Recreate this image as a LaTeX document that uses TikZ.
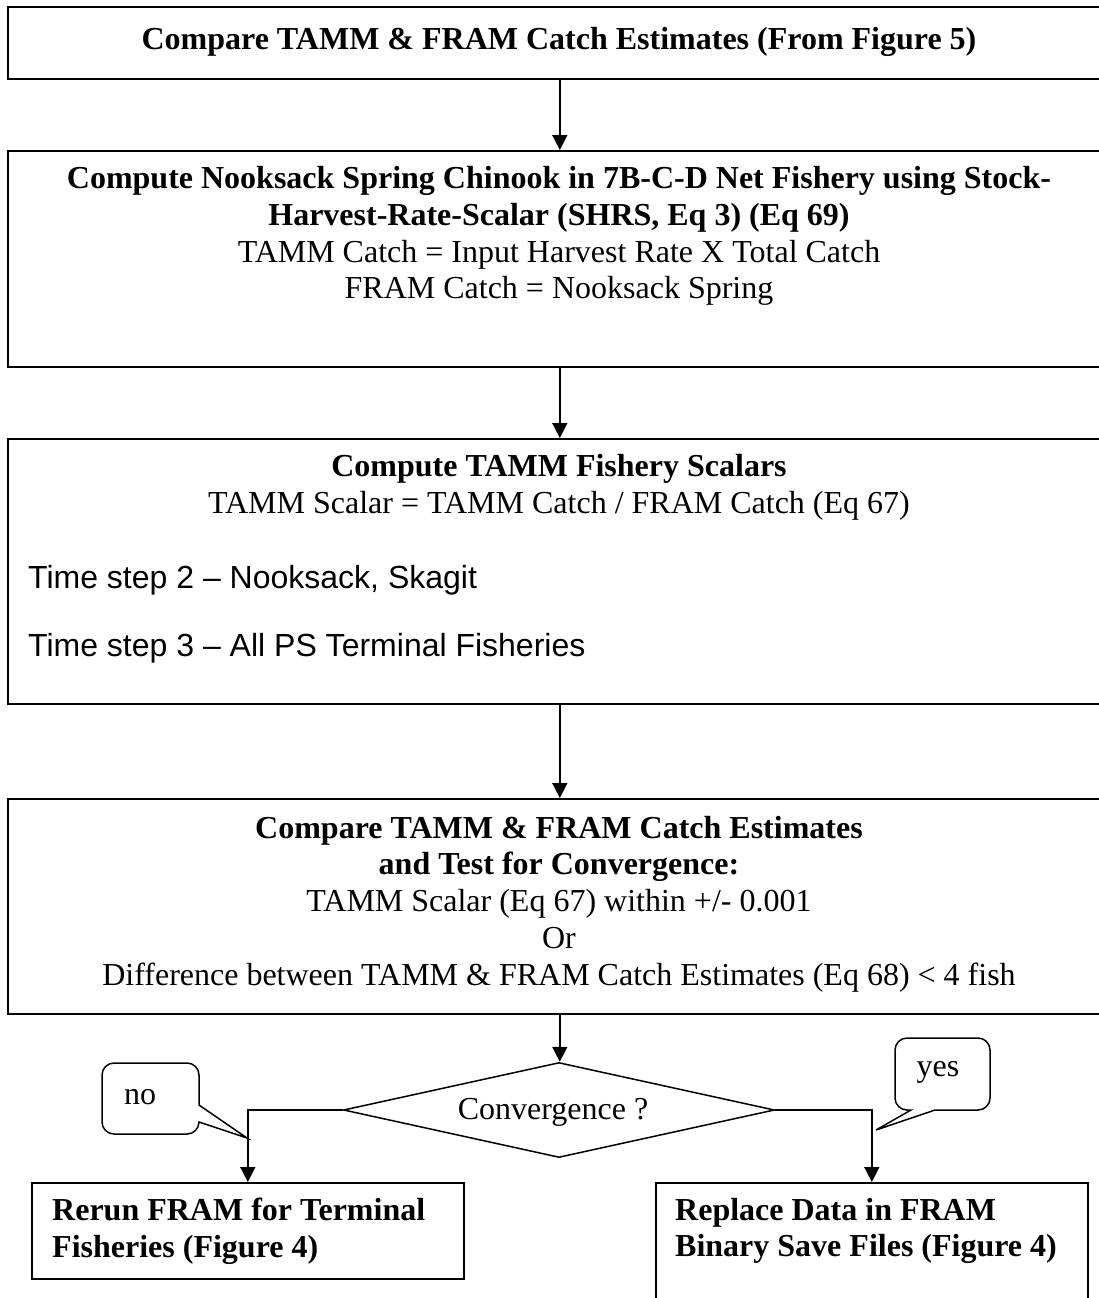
\documentclass[tikz,border=0pt]{standalone}
\usepackage{fontspec}
\setmainfont{Liberation Serif}
\setsansfont{Liberation Sans}
\usetikzlibrary{arrows.meta,shapes.geometric}
\begin{document}
\begin{tikzpicture}[x=1pt,y=-1pt,
  box/.style={draw,line width=1.6pt,rectangle,inner sep=0pt,anchor=north west,fill=white},
  txt/.style={inner sep=0pt,align=center,font=\fontsize{32}{36.8}\selectfont},
  ltxt/.style={inner sep=0pt,align=left,anchor=west,font=\fontsize{32}{36.8}\selectfont},
  stxt/.style={inner sep=0pt,anchor=west,font=\fontsize{32}{36.8}\selectfont\sffamily},
  arr/.style={line width=1.6pt,-{Triangle[width=15pt,length=15pt]}},
  bubble/.style={draw,line width=1.5pt,fill=white,line join=miter}
]
\useasboundingbox (0,0) rectangle (1099,1298);
\clip (0,0) rectangle (1099,1298);

% boxes
\node[box,minimum width=1104pt,minimum height=72pt] (b1) at (7,6) {};
\node[box,minimum width=1104pt,minimum height=216pt] (b2) at (7,150) {};
\node[box,minimum width=1104pt,minimum height=265pt] (b3) at (7,438) {};
\node[box,minimum width=1104pt,minimum height=215pt] (b4) at (7,798) {};
\node[box,minimum width=432pt,minimum height=96pt] (rerun) at (31,1182) {};
\node[box,minimum width=432pt,minimum height=140pt] (replace) at (655,1182) {};
\node[draw,line width=1.5pt,diamond,shape aspect=4.5,inner sep=0pt,
      minimum width=431pt,minimum height=95pt] (dia) at (559,1110) {};

% texts
\node[txt] (t1) at (559,42) {\textbf{Compare TAMM \& FRAM Catch Estimates (From Figure 5)}};
\node[txt] (t2) at (559,236) {\textbf{Compute Nooksack Spring Chinook in 7B-C-D Net Fishery using Stock-}\\
  \textbf{Harvest-Rate-Scalar (SHRS, Eq 3) (Eq 69)}\\
  TAMM Catch = Input Harvest Rate X Total Catch\\
  FRAM Catch = Nooksack Spring};
\node[txt] (t3) at (559,487) {\textbf{Compute TAMM Fishery Scalars}\\
  TAMM Scalar = TAMM Catch / FRAM Catch (Eq 67)};
\node[stxt] (t3a) at (28,580) {Time step 2 – Nooksack, Skagit};
\node[stxt] (t3b) at (28,648) {Time step 3 – All PS Terminal Fisheries};
\node[txt] (t4) at (559,904) {\textbf{Compare TAMM \& FRAM Catch Estimates}\\
  \textbf{and Test for Convergence:}\\
  TAMM Scalar (Eq 67) within +/- 0.001\\
  Or\\
  Difference between TAMM \& FRAM Catch Estimates (Eq 68) < 4 fish};
\node[txt] (tdia) at (553,1112) {Convergence ?};
\node[ltxt] (trerun) at (52,1231) {\textbf{Rerun FRAM for Terminal}\\ \textbf{Fisheries (Figure 4)}};
\node[ltxt] (treplace) at (675,1231) {\textbf{Replace Data in FRAM}\\ \textbf{Binary Save Files (Figure 4)}};

% connectors
\draw[arr] (b1.south) -- (b2.north);
\draw[arr] (b2.south) -- (b3.north);
\draw[arr] (b3.south) -- (b4.north);
\draw[arr] (b4.south) -- (b4.south |- dia.north);
\draw[arr] (dia.west) -| (rerun.north);
\draw[arr] (dia.east) -| (replace.north);

% callouts
\coordinate (notip) at (247,1138);
\coordinate (yestip) at (876,1130);
\draw[bubble] (199,1105) -- (notip) -- (199,1122) arc (0:90:12) -- (114,1134) arc (90:180:12)
  -- (102,1075) arc (180:270:12) -- (187,1063) arc (270:360:12) -- cycle;
\draw[bubble] (911,1110) -- (yestip) -- (935,1110) -- (978,1110) arc (90:0:12) -- (990,1050)
  arc (360:270:12) -- (907,1038) arc (270:180:12) -- (895,1098) arc (180:90:12) -- cycle;
\node[txt] (tno) at (140,1097) {no};
\node[txt] (tyes) at (938,1072) {yes};
\end{tikzpicture}
\end{document}
